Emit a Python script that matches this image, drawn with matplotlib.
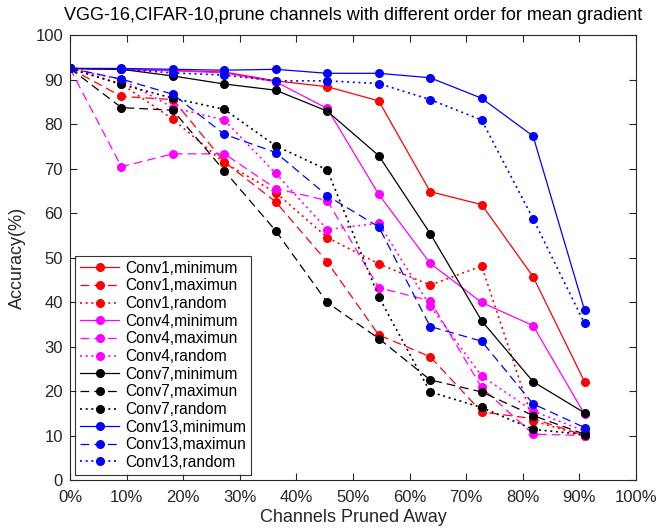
import matplotlib.pyplot as plt

plt.rcParams['font.family'] = ['Liberation Sans', 'DejaVu Sans']

# pruning ratio (%) of each measured point
pruned = [0, 9.09, 18.18, 27.27, 36.36, 45.45, 54.55, 63.64, 72.73, 81.82, 90.91]

conv1_min = [92.5, 92.3, 92.0, 91.7, 89.7, 88.4, 85.2, 64.8, 61.9, 45.7, 22.1]
conv1_max = [92.5, 86.2, 85.5, 71.5, 62.5, 49.0, 32.6, 27.7, 15.3, 13.8, 10.0]
conv1_rnd = [92.5, 89.0, 81.1, 71.3, 64.6, 54.5, 48.6, 43.8, 48.1, 13.3, 9.9]
conv4_min = [92.5, 92.3, 92.0, 91.5, 89.5, 83.5, 64.2, 48.7, 39.9, 34.7, 14.8]
conv4_max = [92.5, 70.4, 73.3, 73.3, 65.5, 62.8, 43.2, 40.3, 20.8, 10.3, 10.0]
conv4_rnd = [92.5, 90.0, 83.7, 80.9, 68.9, 56.3, 57.7, 39.1, 23.4, 15.5, 11.0]
conv7_min = [92.5, 92.3, 90.8, 89.0, 87.6, 82.9, 72.9, 55.4, 35.8, 22.1, 15.1]
conv7_max = [92.5, 83.7, 83.1, 69.5, 56.0, 39.9, 31.8, 22.5, 19.8, 14.5, 10.3]
conv7_rnd = [92.5, 88.9, 85.8, 83.3, 75.1, 69.7, 41.2, 19.8, 16.3, 11.4, 10.2]
conv13_min = [92.5, 92.5, 92.3, 92.1, 92.3, 91.4, 91.4, 90.4, 85.8, 77.3, 38.2]
conv13_max = [92.5, 90.1, 86.7, 77.7, 73.6, 63.9, 56.9, 34.5, 31.2, 17.1, 11.8]
conv13_rnd = [92.5, 92.3, 91.5, 91.0, 89.7, 89.7, 89.1, 85.5, 80.9, 58.7, 35.2]

series = [
    ('Conv1,minimum', conv1_min, 'red', '-'),
    ('Conv1,maximun', conv1_max, 'red', '--'),
    ('Conv1,random', conv1_rnd, 'red', ':'),
    ('Conv4,minimum', conv4_min, 'magenta', '-'),
    ('Conv4,maximun', conv4_max, 'magenta', '--'),
    ('Conv4,random', conv4_rnd, 'magenta', ':'),
    ('Conv7,minimum', conv7_min, 'black', '-'),
    ('Conv7,maximun', conv7_max, 'black', '--'),
    ('Conv7,random', conv7_rnd, 'black', ':'),
    ('Conv13,minimum', conv13_min, 'blue', '-'),
    ('Conv13,maximun', conv13_max, 'blue', '--'),
    ('Conv13,random', conv13_rnd, 'blue', ':'),
]

dash_styles = {'-': '-', '--': (0, (7, 4)), ':': (0, (1.2, 2.2))}

fig = plt.figure(figsize=(6.57, 5.31), dpi=100)
ax = fig.add_axes([0.1065, 0.096, 0.8615, 0.838])

for name, vals, col, ls in series:
    lw = 1.2 if ls == ':' else 0.9
    ax.plot(pruned, vals, color=col, linestyle=dash_styles[ls], linewidth=lw,
            marker='o', markersize=5.5, label=name)

ax.set_xlim(0, 100)
ax.set_ylim(0, 100)
ax.set_xticks(range(0, 101, 10))
ax.set_xticklabels([f'{v}%' for v in range(0, 101, 10)])
ax.set_yticks(range(0, 101, 10))
ax.tick_params(direction='in', top=True, right=True, labelsize=12, colors='#262626', length=5)
ax.tick_params(axis='x', pad=7)
ax.tick_params(axis='y', pad=5)
for sp in ax.spines.values():
    sp.set_color('#262626')
    sp.set_linewidth(0.8)

ax.set_xlabel('Channels Pruned Away', fontsize=13, color='#262626', labelpad=3)
ax.set_ylabel('Accuracy(%)', fontsize=13, color='#262626', labelpad=7)
ax.set_title('VGG-16,CIFAR-10,prune channels with different order for mean gradient',
             fontsize=13, pad=11)

leg = ax.legend(loc='lower left', fontsize=11.2, frameon=True, fancybox=False,
                edgecolor='black', handlelength=2.5, borderaxespad=0.35,
                labelspacing=0.17, handletextpad=0.4, borderpad=0.3)
leg.get_frame().set_linewidth(0.8)

fig.savefig('out.png', dpi=100)
